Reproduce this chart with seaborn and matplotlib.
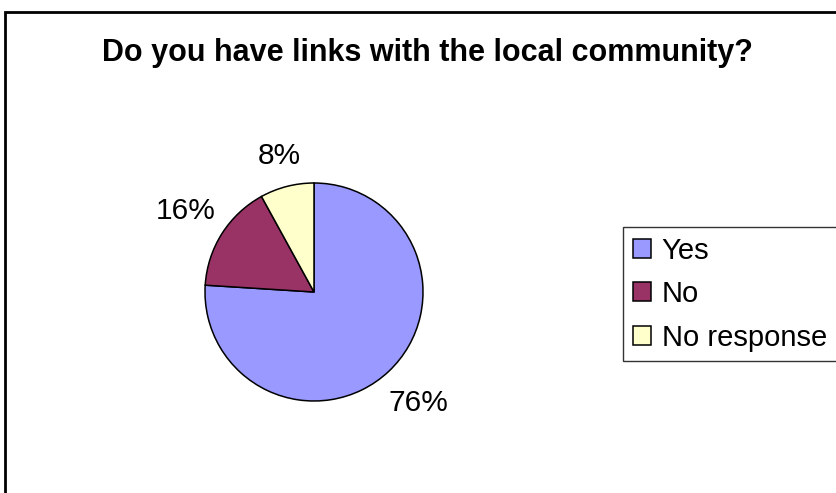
import matplotlib
matplotlib.use("Agg")
import matplotlib.pyplot as plt
import numpy as np
import seaborn as sns
from matplotlib.patches import Rectangle

categories = ["Yes", "No", "No response"]
values = [76, 16, 8]
colors = ["#9999FF", "#993366", "#FFFFCC"]
title = "Do you have links with the local community?"

sns.set_theme(style="white")
plt.rcParams['font.family'] = ['Liberation Sans', 'DejaVu Sans']
plt.rcParams['text.color'] = 'black'

W, H = 837, 493
fig = plt.figure(figsize=(W / 100, H / 100), dpi=100)
fig.patch.set_facecolor("white")

# outer chart border (bottom and right cut off)
fig.patches.append(Rectangle((5 / W, -0.2), 1.2, 1.2 - 12 / H,
                             transform=fig.transFigure, fill=False,
                             edgecolor="black", linewidth=2, clip_on=False))

cx, cy, r = 314, 292, 109
ax = fig.add_axes([(cx - r) / W, (H - cy - r) / H, 2 * r / W, 2 * r / H])
wedges, texts, autotexts = ax.pie(
    values, colors=colors, startangle=90, counterclock=False,
    wedgeprops=dict(edgecolor="black", linewidth=1.1),
    autopct=lambda p: f"{p:.0f}%", pctdistance=1.36,
    textprops=dict(fontsize=21.5, color="black"))
# radial label offsets (Excel-style outside labels)
label_dist = [1.40, 1.39, 1.29]
for w, t, d in zip(wedges, autotexts, label_dist):
    ang = np.deg2rad((w.theta1 + w.theta2) / 2)
    t.set_position((d * np.cos(ang), d * np.sin(ang)))
ax.set_xlim(-1, 1)
ax.set_ylim(-1, 1)
ax.set_aspect("equal")
ax.axis("off")

fig.text(427 / W, 1 - 53 / H, title, ha="center", va="center",
         fontsize=22, fontweight="bold", color="black")

leg = fig.legend(wedges, categories, loc="upper left",
                 bbox_to_anchor=(623 / W, 1 - 227 / H),
                 fontsize=21, frameon=True, fancybox=False,
                 handlelength=0.62, handleheight=0.62, handletextpad=0.38,
                 labelspacing=0.53, borderpad=0.33, borderaxespad=0)
leg.get_frame().set_edgecolor("black")
leg.get_frame().set_linewidth(1)
for t in leg.get_texts():
    t.set_color("black")

fig.savefig("out.png", dpi=100, facecolor="white")
